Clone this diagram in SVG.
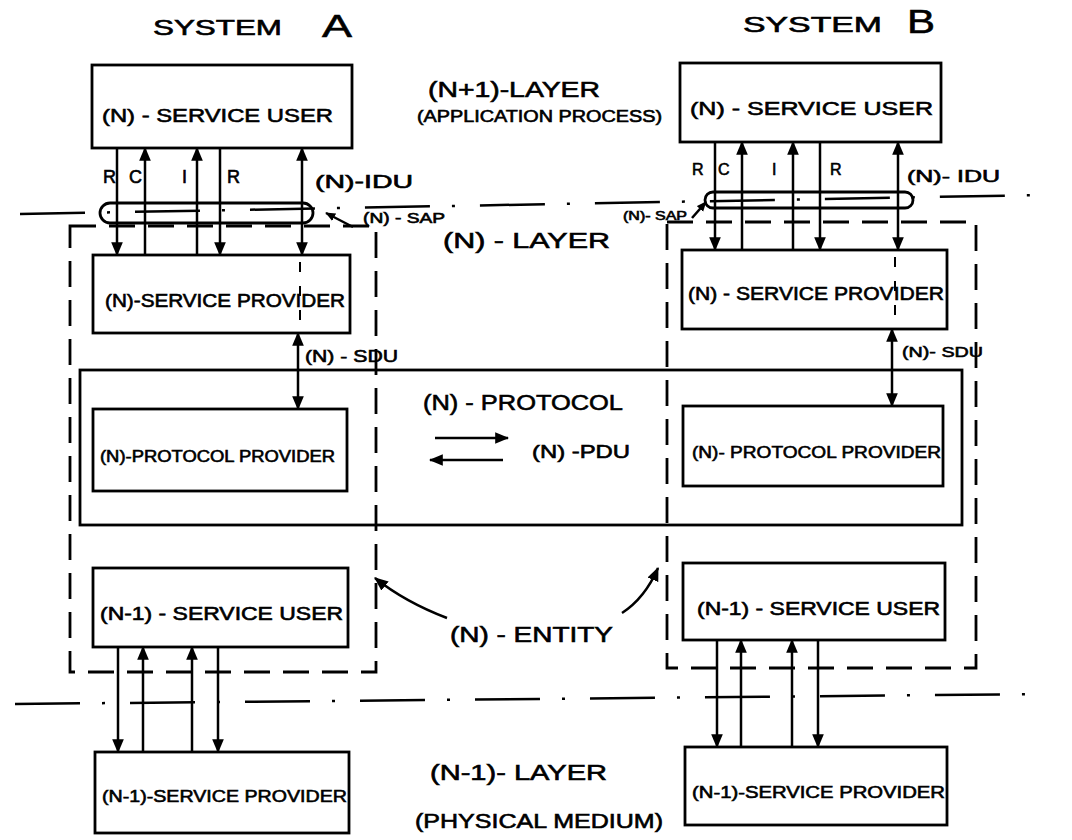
<svg xmlns="http://www.w3.org/2000/svg" width="1072" height="840" viewBox="0 0 1072 840">
<defs>
<marker id="ah" viewBox="0 0 12 10" refX="11" refY="5" markerWidth="14" markerHeight="12" markerUnits="userSpaceOnUse" orient="auto-start-reverse"><path d="M0,0 L12,5 L0,10 z" fill="#000"/></marker>
<marker id="ahs" viewBox="0 0 12 10" refX="11" refY="5" markerWidth="10" markerHeight="9" markerUnits="userSpaceOnUse" orient="auto-start-reverse"><path d="M0,0 L12,5 L0,10 z" fill="#000"/></marker>
</defs>
<style>
.box{fill:none;stroke:#000;stroke-width:2.8}
.t{font-family:"Liberation Sans",Arial,sans-serif;fill:#000;stroke:#000;stroke-width:0.6}
.c{stroke:#000;stroke-width:2.5;fill:none}
.a{stroke:#000;stroke-width:2.5;fill:none;marker-end:url(#ah)}
.a2{stroke:#000;stroke-width:2.5;fill:none;marker-start:url(#ah);marker-end:url(#ah)}
.dr{fill:none;stroke:#000;stroke-width:2.8;stroke-dasharray:26 13}
.dd{stroke:#000;stroke-width:2.5;stroke-dasharray:65 22 3 25;fill:none}
.dv{stroke:#000;stroke-width:2;stroke-dasharray:10 14;fill:none}
</style>
<rect width="1072" height="840" fill="#fff"/>

<g id="titles">
<text class="t" x="153" y="35" font-size="22" textLength="129" lengthAdjust="spacingAndGlyphs">SYSTEM</text>
<text class="t" x="322" y="37" font-size="32" textLength="30" lengthAdjust="spacingAndGlyphs">A</text>
<text class="t" x="743" y="32" font-size="22" textLength="139" lengthAdjust="spacingAndGlyphs">SYSTEM</text>
<text class="t" x="907" y="33" font-size="34" textLength="28" lengthAdjust="spacingAndGlyphs">B</text>
</g>

<g id="layer-lines">
<line class="dd" x1="20" y1="214" x2="1040" y2="195"/>
<line class="dd" x1="15" y1="704" x2="1043" y2="694"/>
</g>

<g id="entity-a"><rect class="dr" x="70" y="226" width="306" height="446"/></g>
<g id="entity-b"><rect class="dr" x="667" y="222" width="309" height="446"/></g>

<g id="protocol">
<rect class="box" x="80" y="370" width="882" height="155"/>
<text class="t" x="423" y="410" font-size="22" textLength="200" lengthAdjust="spacingAndGlyphs">(N) - PROTOCOL</text>
<text class="t" x="532" y="458" font-size="18" textLength="98" lengthAdjust="spacingAndGlyphs">(N) -PDU</text>
</g>

<g id="a-user">
<rect class="box" x="92" y="65" width="260" height="83"/>
<text class="t" x="102" y="122" font-size="19" textLength="231" lengthAdjust="spacingAndGlyphs">(N) - SERVICE USER</text>
</g>
<g id="b-user">
<rect class="box" x="680" y="63" width="261" height="79"/>
<text class="t" x="690" y="115" font-size="19" textLength="243" lengthAdjust="spacingAndGlyphs">(N) - SERVICE USER</text>
</g>

<g id="a-sap"><rect class="box" x="100" y="203" width="213" height="20" rx="10"/></g>
<g id="b-sap"><rect class="box" x="705" y="192" width="208" height="16" rx="8"/></g>

<g id="a-provider">
<rect class="box" x="93" y="255" width="257" height="78"/>
<text class="t" x="105" y="307" font-size="18" textLength="240" lengthAdjust="spacingAndGlyphs">(N)-SERVICE PROVIDER</text>
</g>
<g id="b-provider">
<rect class="box" x="682" y="250" width="265" height="79"/>
<text class="t" x="688" y="300" font-size="18" textLength="256" lengthAdjust="spacingAndGlyphs">(N) - SERVICE PROVIDER</text>
</g>

<g id="a-protocol-provider">
<rect class="box" x="93" y="409" width="254" height="82"/>
<text class="t" x="100" y="462" font-size="16" textLength="235" lengthAdjust="spacingAndGlyphs">(N)-PROTOCOL PROVIDER</text>
</g>
<g id="b-protocol-provider">
<rect class="box" x="683" y="406" width="260" height="80"/>
<text class="t" x="692" y="458" font-size="17" textLength="249" lengthAdjust="spacingAndGlyphs">(N)- PROTOCOL PROVIDER</text>
</g>

<g id="a-n1-user">
<rect class="box" x="93" y="568" width="255" height="79"/>
<text class="t" x="100" y="620" font-size="18" textLength="243" lengthAdjust="spacingAndGlyphs">(N-1) - SERVICE USER</text>
</g>
<g id="b-n1-user">
<rect class="box" x="683" y="563" width="262" height="77"/>
<text class="t" x="697" y="615" font-size="18" textLength="243" lengthAdjust="spacingAndGlyphs">(N-1) - SERVICE USER</text>
</g>

<g id="a-n1-provider">
<rect class="box" x="95" y="752" width="254" height="81"/>
<text class="t" x="102" y="802" font-size="17" textLength="245" lengthAdjust="spacingAndGlyphs">(N-1)-SERVICE PROVIDER</text>
</g>
<g id="b-n1-provider">
<rect class="box" x="685" y="747" width="262" height="78"/>
<text class="t" x="692" y="798" font-size="17" textLength="253" lengthAdjust="spacingAndGlyphs">(N-1)-SERVICE PROVIDER</text>
</g>

<g id="connectors">
<line class="a" x1="117" y1="148" x2="117" y2="255"/>
<line class="a" x1="145" y1="255" x2="145" y2="148"/>
<line class="a" x1="197" y1="255" x2="197" y2="148"/>
<line class="a" x1="220" y1="148" x2="220" y2="255"/>
<line class="a2" x1="302" y1="148" x2="302" y2="255"/>
<line class="dv" x1="300" y1="262" x2="300" y2="333"/>
<line class="a2" x1="298" y1="333" x2="298" y2="409"/>
<line class="a" x1="715" y1="142" x2="715" y2="250"/>
<line class="a" x1="742" y1="250" x2="742" y2="142"/>
<line class="a" x1="793" y1="250" x2="793" y2="142"/>
<line class="a" x1="820" y1="142" x2="820" y2="250"/>
<line class="a2" x1="898" y1="142" x2="898" y2="250"/>
<line class="dv" x1="895" y1="257" x2="895" y2="329"/>
<line class="a2" x1="892" y1="329" x2="892" y2="406"/>
<line class="a" x1="435" y1="438" x2="508" y2="438"/>
<line class="a" x1="503" y1="460" x2="430" y2="460"/>
<line class="a" x1="118" y1="647" x2="118" y2="752"/>
<line class="a" x1="143" y1="752" x2="143" y2="647"/>
<line class="a" x1="192" y1="752" x2="192" y2="647"/>
<line class="a" x1="218" y1="647" x2="218" y2="752"/>
<line class="a" x1="717" y1="640" x2="717" y2="747"/>
<line class="a" x1="741" y1="747" x2="741" y2="640"/>
<line class="a" x1="792" y1="747" x2="792" y2="640"/>
<line class="a" x1="818" y1="640" x2="818" y2="747"/>
<path class="a" d="M447,618 Q405,602 375,578"/>
<path class="a" d="M622,613 Q645,598 658,568"/>
<line class="c" x1="353" y1="227" x2="326" y2="213" marker-end="url(#ahs)"/>
<line class="c" x1="692" y1="218" x2="706" y2="202" marker-end="url(#ahs)"/>
</g>

<g id="labels">
<text class="t" x="103" y="183" font-size="18">R</text>
<text class="t" x="129" y="183" font-size="18">C</text>
<text class="t" x="182" y="183" font-size="18">I</text>
<text class="t" x="227" y="183" font-size="18">R</text>
<text class="t" x="692" y="175" font-size="16">R</text>
<text class="t" x="718" y="175" font-size="16">C</text>
<text class="t" x="772" y="175" font-size="16">I</text>
<text class="t" x="830" y="175" font-size="16">R</text>
<text class="t" x="315" y="188" font-size="18" textLength="98" lengthAdjust="spacingAndGlyphs">(N)-IDU</text>
<text class="t" x="907" y="182" font-size="17" textLength="93" lengthAdjust="spacingAndGlyphs">(N)- IDU</text>
<text class="t" x="363" y="223" font-size="14" textLength="82" lengthAdjust="spacingAndGlyphs">(N) - SAP</text>
<text class="t" x="623" y="220" font-size="12" textLength="64" lengthAdjust="spacingAndGlyphs">(N)- SAP</text>
<text class="t" x="428" y="97" font-size="22" textLength="172" lengthAdjust="spacingAndGlyphs">(N+1)-LAYER</text>
<text class="t" x="417" y="122" font-size="16" textLength="245" lengthAdjust="spacingAndGlyphs">(APPLICATION PROCESS)</text>
<text class="t" x="443" y="248" font-size="22" textLength="167" lengthAdjust="spacingAndGlyphs">(N) - LAYER</text>
<text class="t" x="305" y="362" font-size="17" textLength="93" lengthAdjust="spacingAndGlyphs">(N) - SDU</text>
<text class="t" x="902" y="357" font-size="15" textLength="81" lengthAdjust="spacingAndGlyphs">(N)- SDU</text>
<text class="t" x="450" y="642" font-size="22" textLength="163" lengthAdjust="spacingAndGlyphs">(N) - ENTITY</text>
<text class="t" x="430" y="780" font-size="22" textLength="177" lengthAdjust="spacingAndGlyphs">(N-1)- LAYER</text>
<text class="t" x="415" y="828" font-size="20" textLength="248" lengthAdjust="spacingAndGlyphs">(PHYSICAL MEDIUM)</text>
</g>
</svg>
